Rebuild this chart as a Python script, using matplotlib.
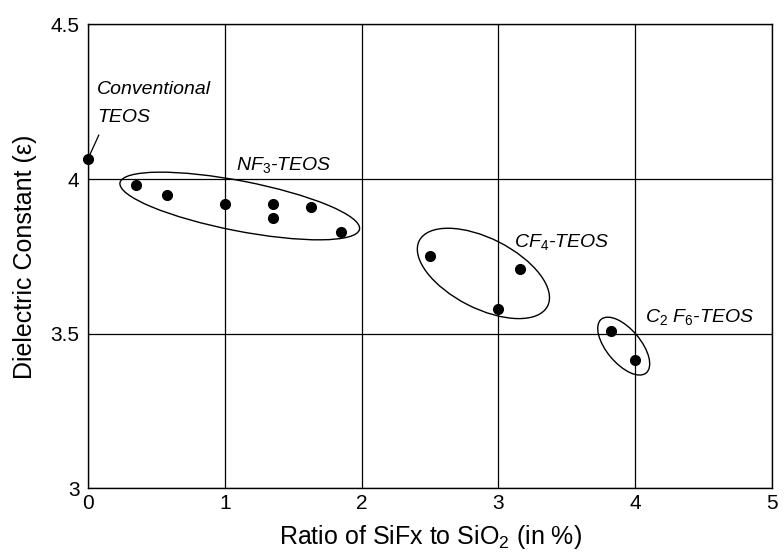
import numpy as np
import matplotlib
matplotlib.use('Agg')
import matplotlib.pyplot as plt
from matplotlib.patches import Ellipse
from matplotlib.transforms import Affine2D

plt.rcParams['font.family'] = ['Liberation Sans', 'DejaVu Sans']
plt.rcParams['mathtext.fontset'] = 'custom'
plt.rcParams['mathtext.rm'] = 'Liberation Sans'
plt.rcParams['mathtext.it'] = 'Liberation Sans:italic'

# measured data (ratio of SiFx to SiO2 in %, dielectric constant)
conv_x = [0.0]
conv_y = [4.065]
nf3_x = [0.35, 0.58, 1.0, 1.35, 1.35, 1.63, 1.85]
nf3_y = [3.98, 3.95, 3.92, 3.92, 3.875, 3.91, 3.83]
cf4_x = [2.50, 3.16, 3.00]
cf4_y = [3.75, 3.71, 3.58]
c2f6_x = [3.82, 4.00]
c2f6_y = [3.51, 3.415]

# group outlines: centre (data), semi axes (px), angle (deg)
groups = {
    'nf3': ((1.11, 3.913), 122, 25, -11),
    'cf4': ((2.89, 3.695), 72, 35, -27),
    'c2f6': ((3.915, 3.46), 35, 17, -50),
}

fig = plt.figure(figsize=(7.84, 5.55), dpi=100)
ax = fig.add_axes([0.112, 0.12, 0.873, 0.836])

ax.set_xlim(0, 5)
ax.set_ylim(3, 4.5)
ax.set_xticks(range(6))
ax.set_yticks([3, 3.5, 4, 4.5])
ax.set_yticklabels(['3', '3.5', '4', '4.5'])
ax.grid(True, color='k', linewidth=0.9)
ax.set_axisbelow(True)
for s in ax.spines.values():
    s.set_linewidth(1.0)
ax.tick_params(length=0, labelsize=15)
ax.tick_params(axis='x', pad=4)
ax.tick_params(axis='y', pad=6)

ax.plot(conv_x, conv_y, 'o', color='k', ms=7, clip_on=False, zorder=5)
for xs, ys in [(nf3_x, nf3_y), (cf4_x, cf4_y), (c2f6_x, c2f6_y)]:
    ax.plot(xs, ys, 'o', color='k', ms=7, zorder=5)

# ellipses drawn in pixel units so they keep their shape
sx = ax.get_position().width * fig.get_figwidth() * fig.dpi / 5.0
sy = ax.get_position().height * fig.get_figheight() * fig.dpi / 1.5
for (cx, cy), a, b, ang in groups.values():
    e = Ellipse((0, 0), 2 * a, 2 * b, angle=ang, fill=False, ec='k', lw=1.0)
    e.set_transform(Affine2D().scale(1 / sx, 1 / sy).translate(cx, cy) + ax.transData)
    ax.add_patch(e)

fs = 14
ax.text(0.066, 4.29, 'Conventional', style='italic', fontsize=fs, va='center')
ax.text(0.066, 4.20, 'TEOS', style='italic', fontsize=fs, va='center')
ax.plot([0.008, 0.08], [4.072, 4.142], color='k', lw=0.9)
ax.text(1.085, 4.045, 'NF$_\\mathit{3}$-TEOS', style='italic', fontsize=fs, va='center')
ax.text(3.117, 3.796, 'CF$_\\mathit{4}$-TEOS', style='italic', fontsize=fs, va='center')
ax.text(4.07, 3.555, 'C$_\\mathit{2}$ F$_\\mathit{6}$-TEOS', style='italic', fontsize=fs, va='center')

ax.set_xlabel('Ratio of SiFx to SiO$_\\mathrm{2}$ (in %)', fontsize=18, labelpad=7)
ax.set_ylabel('Dielectric Constant (ε)', fontsize=18, labelpad=10)

fig.savefig('out.png', dpi=100)
